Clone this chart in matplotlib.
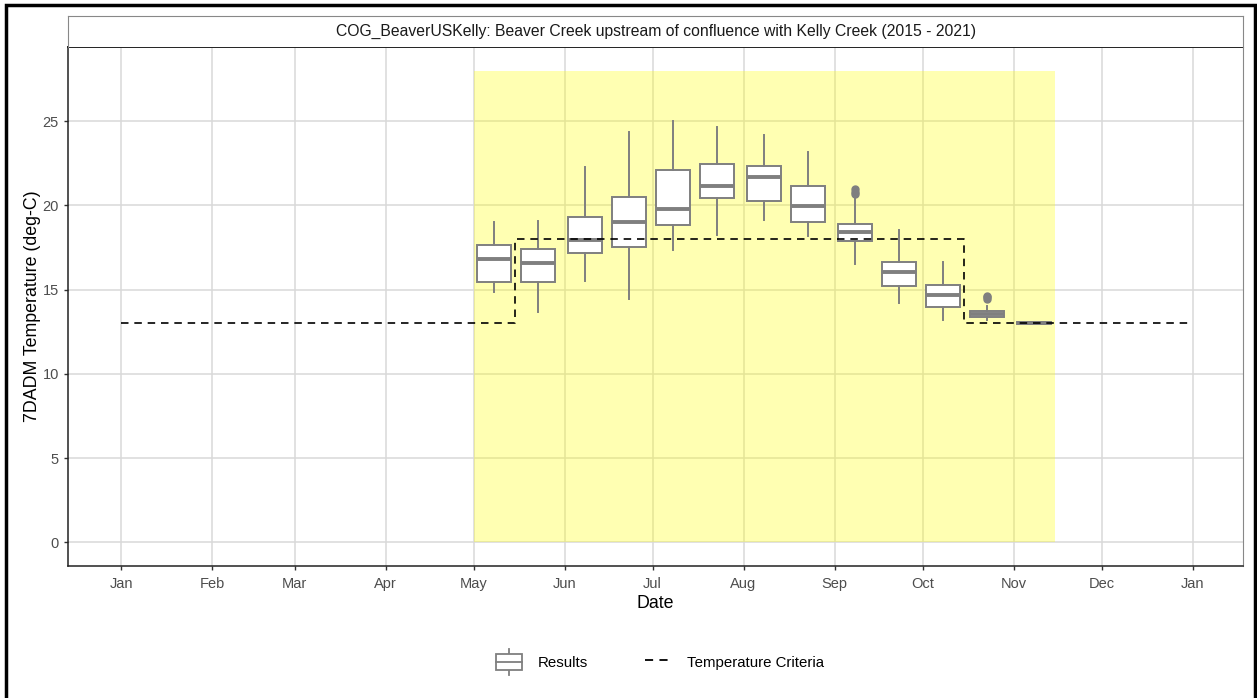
"""Biweekly 7DADM boxplots against the temperature criteria."""

from datetime import datetime

import matplotlib
matplotlib.use("Agg")
import matplotlib.dates as mdates
import matplotlib.pyplot as plt
from matplotlib.legend_handler import HandlerBase
from matplotlib.lines import Line2D
from matplotlib.patches import Rectangle

YEAR = 2021

# box centres (month, day) and box statistics (deg-C)
box_days = [(5, 8), (5, 23), (6, 8), (6, 23), (7, 8), (7, 23), (8, 8),
            (8, 23), (9, 8), (9, 23), (10, 8), (10, 23), (11, 8)]
whis_lo = [14.86, 13.68, 15.5, 14.47, 17.34, 18.23, 19.16, 18.19, 16.52, 14.23, 13.2, 13.18, 12.97]
q1 = [15.46, 15.46, 17.16, 17.51, 18.82, 20.44, 20.24, 19.0, 17.87, 15.22, 13.96, 13.36, 12.99]
med = [16.84, 16.57, 17.95, 19.0, 19.81, 21.15, 21.69, 19.99, 18.42, 16.05, 14.67, 13.54, 13.03]
q3 = [17.63, 17.44, 19.29, 20.5, 22.08, 22.46, 22.32, 21.15, 18.88, 16.66, 15.3, 13.76, 13.07]
whis_hi = [19.04, 19.08, 22.3, 24.38, 25.03, 24.67, 24.2, 23.17, 20.36, 18.54, 16.64, 14.03, 13.09]
outliers = [[], [], [], [], [], [], [], [], [20.65, 20.8, 20.95], [], [], [14.45, 14.55, 14.65], []]

# criteria steps: (month, day) -> value
crit_dates = [(1, 1), (5, 15), (5, 15), (10, 15), (10, 15), (12, 31)]
crit_vals = [13, 13, 18, 18, 13, 13]

# highlighted season
season_start = (5, 1)
season_end = (11, 15)
season_top = 28

title = "COG_BeaverUSKelly: Beaver Creek upstream of confluence with Kelly Creek (2015 - 2021)"

BOX_GREY = "#7F7F7F"
TEXT_GREY = "#4D4D4D"
GRID = "#D9D9D9"

W, H = 1257, 698


def d(md, year=YEAR):
    return mdates.date2num(datetime(year, md[0], md[1]))


class BoxHandler(HandlerBase):
    def create_artists(self, legend, orig_handle, xdescent, ydescent, width, height, fontsize, trans):
        x0, y0 = -xdescent, -ydescent
        cx = x0 + width / 2
        bw = width * 0.95
        box = Rectangle((cx - bw / 2, y0), bw, height,
                        facecolor="white", edgecolor=BOX_GREY, lw=1.3, transform=trans)
        mid = Line2D([cx - bw / 2, cx + bw / 2], [y0 + height / 2] * 2, color=BOX_GREY, lw=1.3, transform=trans)
        top = Line2D([cx, cx], [y0 + height, y0 + height * 1.3], color=BOX_GREY, lw=1.3, transform=trans)
        bot = Line2D([cx, cx], [y0, y0 - height * 0.3], color=BOX_GREY, lw=1.3, transform=trans)
        return [top, bot, box, mid]


fig = plt.figure(figsize=(W / 100, H / 100), dpi=100)
plt.rcParams["font.family"] = ["Liberation Sans", "DejaVu Sans"]

px_l, px_r, px_t, px_b = 68, 1243, 47, 566
ax = fig.add_axes([px_l / W, 1 - px_b / H, (px_r - px_l) / W, (px_b - px_t) / H])

x0, x1 = d((1, 1)), d((12, 31))
pad = (x1 - x0) * 0.05
ax.set_xlim(x0 - pad, x1 + pad)
ax.set_ylim(-1.4, 29.4)

# grid below everything
ax.set_axisbelow(True)
ax.grid(True, color=GRID, lw=1.1)

# season shading
ax.add_patch(Rectangle((d(season_start), 0), d(season_end) - d(season_start), season_top,
                       facecolor="yellow", alpha=0.3, edgecolor="none", zorder=1))

# criteria
ax.plot([d(m) for m in crit_dates], crit_vals, color="black", lw=1.2,
        dashes=(4.5, 3.5), zorder=4)

stats = []
for i in range(len(box_days)):
    stats.append({"whislo": whis_lo[i], "q1": q1[i], "med": med[i], "q3": q3[i],
                  "whishi": whis_hi[i], "fliers": outliers[i]})
ax.bxp(stats, positions=[d(b) for b in box_days], widths=11.5, showcaps=False,
       patch_artist=True, manage_ticks=False,
       boxprops=dict(facecolor="white", edgecolor=BOX_GREY, lw=1.4),
       medianprops=dict(color=BOX_GREY, lw=2.8),
       whiskerprops=dict(color=BOX_GREY, lw=1.4),
       flierprops=dict(marker="o", markerfacecolor=BOX_GREY, markeredgecolor=BOX_GREY, markersize=5),
       zorder=3)

months = [d((m, 1)) for m in range(1, 13)] + [d((1, 1), YEAR + 1)]
ax.set_xticks(months)
ax.set_xticklabels([datetime(2000, m, 1).strftime("%b") for m in range(1, 13)] + ["Jan"])
ax.set_yticks(range(0, 26, 5))
ax.tick_params(axis="both", colors="#333333", labelcolor=TEXT_GREY, labelsize=10.5, length=3, width=1)
ax.tick_params(axis="x", pad=5)

for side in ["left", "bottom"]:
    ax.spines[side].set_color("#222222")
    ax.spines[side].set_linewidth(1.1)
ax.spines["right"].set_color("#888888")
ax.spines["top"].set_color("#222222")
ax.spines["top"].set_linewidth(1.4)

ax.set_xlabel("Date", fontsize=12.8, labelpad=3)
ax.set_ylabel("7DADM Temperature (deg-C)", fontsize=12.8, labelpad=1.5)

# facet strip
strip = fig.add_axes([px_l / W, 1 - px_t / H, (px_r - px_l) / W, (px_t - 16) / H])
strip.set_xticks([])
strip.set_yticks([])
for sp in strip.spines.values():
    sp.set_color("#888888")
strip.spines["bottom"].set_visible(False)
strip.text(0.5, 0.5, title, ha="center", va="center", fontsize=11.3, color="#1A1A1A", transform=strip.transAxes)

# legend
box_proxy = Rectangle((0, 0), 1, 1)
line_proxy = Line2D([], [], color="black", lw=1.3, dashes=(4.5, 3.5))
fig.legend([box_proxy, line_proxy], ["Results", "Temperature Criteria"],
           handler_map={Rectangle: BoxHandler()}, loc="center",
           bbox_to_anchor=(0.525, 1 - 662 / H), ncol=2, frameon=False, fontsize=10.8,
           handlelength=1.8, handleheight=1.3, handletextpad=1.0, columnspacing=3.8)

# outer border
fig.patches.append(Rectangle((6 / W, -0.05), (1255 - 6) / W, 1.05 - 5 / H, transform=fig.transFigure,
                             fill=False, edgecolor="black", lw=2.5))

fig.savefig("out.png", dpi=100)
